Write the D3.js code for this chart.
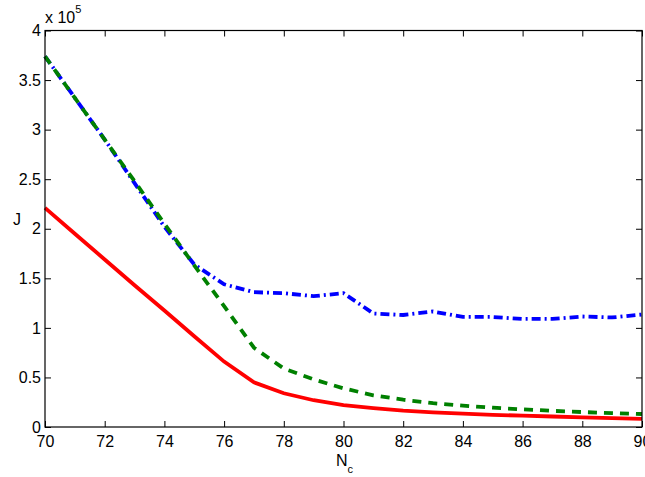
<!DOCTYPE html>
<html>
<head>
<meta charset="utf-8">
<script src="https://cdn.jsdelivr.net/npm/d3@7"></script>
<style>
  body { margin: 0; background: #fff; }
  svg { display: block; font-family: "Liberation Sans", Arial, sans-serif; }
</style>
</head>
<body>
<svg></svg>
<script>
// N_c values
var nc = [70, 71, 72, 73, 74, 75, 76, 77, 78, 79, 80, 81, 82, 83, 84, 85, 86, 87, 88, 89, 90];
// J values, in units of 10^5
var redSolid = [2.21, 1.95, 1.69, 1.43, 1.175, 0.915, 0.66, 0.45, 0.34, 0.27, 0.22, 0.19, 0.165, 0.148, 0.135, 0.123, 0.114, 0.106, 0.098, 0.09, 0.082];
var greenDashed = [3.74, 3.32, 2.90, 2.48, 2.05, 1.63, 1.22, 0.80, 0.59, 0.48, 0.39, 0.32, 0.275, 0.24, 0.215, 0.195, 0.178, 0.163, 0.151, 0.14, 0.131];
var blueDashDot = [3.74, 3.32, 2.90, 2.46, 2.02, 1.64, 1.44, 1.36, 1.35, 1.32, 1.35, 1.145, 1.13, 1.165, 1.11, 1.11, 1.09, 1.09, 1.115, 1.105, 1.135];
var xTicks = [70, 72, 74, 76, 78, 80, 82, 84, 86, 88, 90];
var yTicks = [0, 0.5, 1, 1.5, 2, 2.5, 3, 3.5, 4];

function chart() {
    var width = 645,
        height = 477;
    var left = 45, right = 642, top = 30.5, bottom = 427;

    var x = d3.scaleLinear().domain([70, 90]).range([left, right]);
    var y = d3.scaleLinear().domain([0, 4]).range([bottom, top]);

    var svg = d3.select("svg")
        .attr("width", width)
        .attr("height", height);

    svg.selectAll("*").remove();

    var series = [
        {vals: greenDashed, color: "#008000", dash: "9,7"},
        {vals: blueDashDot, color: "#0000ff", dash: "9,4,2,4"},
        {vals: redSolid, color: "#ff0000", dash: null}
    ];

    var line = d3.line()
        .x(function(d) { return x(d[0]); })
        .y(function(d) { return y(d[1]); });

    // blue first so the green dashes sit on top where they overlap
    [series[1], series[0], series[2]].forEach(function(s) {
        svg.append("path")
            .datum(nc.map(function(n, i) { return [n, s.vals[i]]; }))
            .attr("d", line)
            .attr("fill", "none")
            .attr("stroke", s.color)
            .attr("stroke-width", 3.8)
            .attr("stroke-dasharray", s.dash);
    });

    var tickLen = 6;
    var fs = "16px";

    // box
    svg.append("rect")
        .attr("x", left).attr("y", top)
        .attr("width", right - left).attr("height", bottom - top)
        .attr("fill", "none").attr("stroke", "#000").attr("stroke-width", 1.2);

    // x axis bottom + mirrored top ticks
    svg.append("g")
        .attr("transform", "translate(0," + bottom + ")")
        .call(d3.axisBottom(x).tickValues(xTicks).tickSize(-tickLen).tickPadding(9).tickSizeOuter(0))
        .call(function(g) {
            g.select(".domain").remove();
            g.selectAll("line").attr("stroke", "#000");
            g.selectAll("text").attr("font-size", fs).attr("fill", "#000")
                .attr("font-family", "Liberation Sans, Arial, sans-serif");
        });
    svg.append("g")
        .attr("transform", "translate(0," + top + ")")
        .call(d3.axisTop(x).tickValues(xTicks).tickSize(-tickLen).tickFormat(""))
        .call(function(g) {
            g.select(".domain").remove();
            g.selectAll("line").attr("stroke", "#000");
        });

    // y axis left + mirrored right ticks
    svg.append("g")
        .attr("transform", "translate(" + left + ",0)")
        .call(d3.axisLeft(y).tickValues(yTicks).tickSize(-tickLen).tickPadding(4).tickFormat(d3.format("~g")))
        .call(function(g) {
            g.select(".domain").remove();
            g.selectAll("line").attr("stroke", "#000");
            g.selectAll("text").attr("font-size", fs).attr("fill", "#000")
                .attr("font-family", "Liberation Sans, Arial, sans-serif");
        });
    svg.append("g")
        .attr("transform", "translate(" + right + ",0)")
        .call(d3.axisRight(y).tickValues(yTicks).tickSize(-tickLen).tickFormat(""))
        .call(function(g) {
            g.select(".domain").remove();
            g.selectAll("line").attr("stroke", "#000");
        });

    // exponent label
    var ex = svg.append("text")
        .attr("x", 45).attr("y", 23)
        .attr("font-size", fs).attr("fill", "#000");
    ex.append("tspan").text("x 10");
    ex.append("tspan").attr("dy", -10).attr("font-size", "11px").text("5");

    // axis labels
    svg.append("text")
        .attr("x", 13).attr("y", 225)
        .attr("font-size", fs).attr("fill", "#000")
        .text("J");
    var xl = svg.append("text")
        .attr("x", 336).attr("y", 466)
        .attr("font-size", fs).attr("fill", "#000");
    xl.append("tspan").text("N");
    xl.append("tspan").attr("dy", 7).attr("font-size", "11px").text("c");
}

chart();
</script>
</body>
</html>
